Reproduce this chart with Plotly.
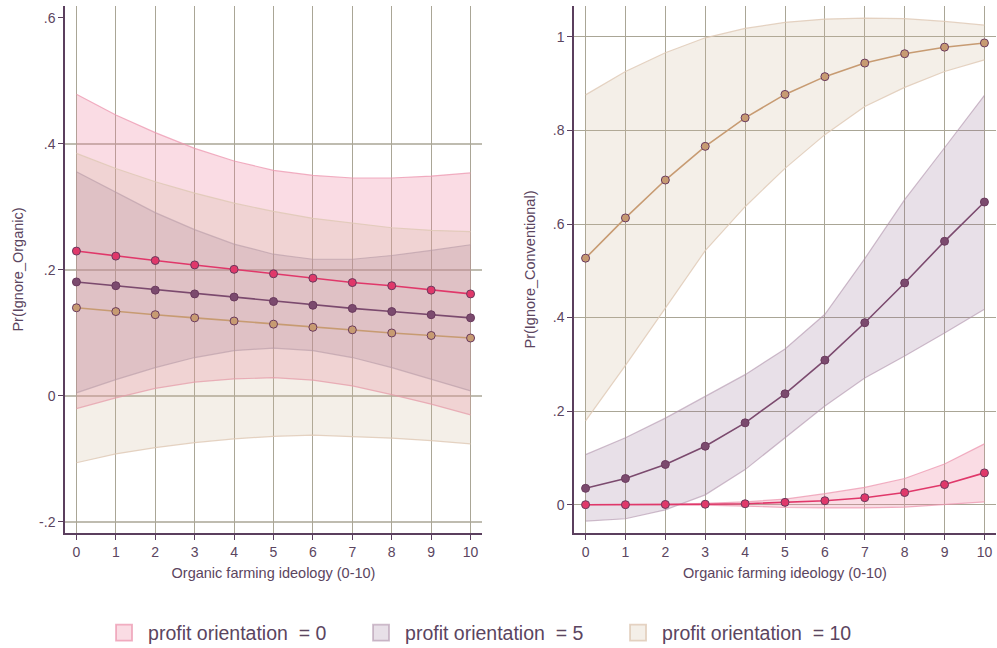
import plotly.graph_objects as go

# Organic farming ideology scale
ideology = list(range(11))

# Left panel: Pr(Ignore_Organic) by profit orientation (prediction, lower CI, upper CI)
org_p0 = [0.230, 0.222, 0.215, 0.208, 0.201, 0.194, 0.187, 0.180, 0.175, 0.168, 0.162]
org_p0_lo = [-0.020, -0.003, 0.012, 0.022, 0.027, 0.029, 0.025, 0.016, 0.002, -0.013, -0.030]
org_p0_hi = [0.479, 0.446, 0.418, 0.393, 0.373, 0.358, 0.350, 0.346, 0.346, 0.349, 0.354]

org_p5 = [0.181, 0.175, 0.168, 0.162, 0.157, 0.150, 0.144, 0.139, 0.134, 0.129, 0.124]
org_p5_lo = [0.005, 0.026, 0.045, 0.061, 0.072, 0.076, 0.072, 0.061, 0.045, 0.027, 0.008]
org_p5_hi = [0.356, 0.323, 0.291, 0.264, 0.241, 0.225, 0.217, 0.217, 0.223, 0.231, 0.240]

org_p10 = [0.140, 0.134, 0.129, 0.124, 0.119, 0.114, 0.109, 0.105, 0.100, 0.096, 0.092]
org_p10_lo = [-0.106, -0.092, -0.082, -0.074, -0.068, -0.064, -0.062, -0.064, -0.067, -0.071, -0.076]
org_p10_hi = [0.385, 0.361, 0.340, 0.322, 0.306, 0.293, 0.282, 0.274, 0.267, 0.263, 0.261]

# Right panel: Pr(Ignore_Conventional)
con_p0 = [0.000, 0.000, 0.0005, 0.001, 0.002, 0.005, 0.0085, 0.015, 0.026, 0.043, 0.068]
con_p0_lo = [0.000, 0.000, -0.0005, -0.001, -0.003, -0.006, -0.007, -0.007, -0.005, 0.000, 0.006]
con_p0_hi = [0.0001, 0.0003, 0.001, 0.003, 0.006, 0.012, 0.0235, 0.037, 0.056, 0.087, 0.130]

con_p5 = [0.035, 0.056, 0.086, 0.125, 0.175, 0.237, 0.309, 0.389, 0.474, 0.563, 0.647]
con_p5_lo = [-0.035, -0.030, -0.011, 0.021, 0.075, 0.142, 0.211, 0.271, 0.318, 0.367, 0.418]
con_p5_hi = [0.107, 0.143, 0.185, 0.231, 0.278, 0.333, 0.407, 0.526, 0.652, 0.763, 0.875]

con_p10 = [0.527, 0.613, 0.694, 0.766, 0.827, 0.877, 0.915, 0.944, 0.964, 0.978, 0.987]
con_p10_lo = [0.179, 0.298, 0.420, 0.543, 0.637, 0.719, 0.791, 0.851, 0.892, 0.926, 0.951]
con_p10_hi = [0.876, 0.926, 0.966, 0.998, 1.018, 1.031, 1.038, 1.040, 1.039, 1.033, 1.025]

group_labels = ["profit orientation\u00a0\u00a0= 0",
                "profit orientation\u00a0\u00a0= 5",
                "profit orientation\u00a0\u00a0= 10"]

left_yticks = [0.6, 0.4, 0.2, 0.0, -0.2]
left_yticktext = [".6", ".4", ".2", "0", "-.2"]
left_ygrid = [0.4, 0.2, 0.0, -0.2]
right_yticks = [1.0, 0.8, 0.6, 0.4, 0.2, 0.0]
right_yticktext = ["1", ".8", ".6", ".4", ".2", "0"]

FONT = "Liberation Sans, Arial, sans-serif"
AXIS_COLOR = "#5b3f5e"
TEXT_COLOR = "#5b4560"
GRID_COLOR = "#aaa696"

styles = [
    dict(line="#e0386a", marker="#e0386a", band="rgba(238,128,158,0.28)", edge="rgba(236,150,175,0.75)"),
    dict(line="#7b4a6e", marker="#7b4a6e", band="rgba(140,100,140,0.20)", edge="rgba(175,145,170,0.6)"),
    dict(line="#c79b72", marker="#c79b72", band="rgba(205,180,150,0.22)", edge="rgba(222,200,180,0.8)"),
]

fig = go.Figure()


def add_panel(preds, axis_suffix):
    xa = "x" + axis_suffix
    ya = "y" + axis_suffix
    for (pred, lo, hi), st in zip(preds, styles):
        fig.add_trace(go.Scatter(x=ideology, y=lo, mode="lines", xaxis=xa, yaxis=ya,
                                 line=dict(color=st["edge"], width=1.2),
                                 showlegend=False, hoverinfo="skip"))
        fig.add_trace(go.Scatter(x=ideology, y=hi, mode="lines", xaxis=xa, yaxis=ya,
                                 line=dict(color=st["edge"], width=1.2),
                                 fill="tonexty", fillcolor=st["band"],
                                 showlegend=False, hoverinfo="skip"))
    for (pred, lo, hi), st in zip(preds, styles):
        fig.add_trace(go.Scatter(x=ideology, y=pred, mode="lines+markers", xaxis=xa, yaxis=ya,
                                 line=dict(color=st["line"], width=1.6),
                                 marker=dict(color=st["marker"], size=8,
                                             line=dict(color="#6a3a5e", width=1)),
                                 showlegend=False))


add_panel([(org_p0, org_p0_lo, org_p0_hi),
           (org_p5, org_p5_lo, org_p5_hi),
           (org_p10, org_p10_lo, org_p10_hi)], "")
add_panel([(con_p0, con_p0_lo, con_p0_hi),
           (con_p5, con_p5_lo, con_p5_hi),
           (con_p10, con_p10_lo, con_p10_hi)], "2")

# Legend swatches
for label, st in zip(group_labels, styles):
    fig.add_trace(go.Scatter(x=[None], y=[None], mode="markers", name=label,
                             marker=dict(symbol="square", size=16, color=st["band"],
                                         line=dict(color=st["edge"], width=1.8))))

# Horizontal grid lines for the left panel (no line at the top tick)
for gv in left_ygrid:
    fig.add_shape(type="line", xref="x domain", yref="y", x0=0, x1=1, y0=gv, y1=gv,
                  line=dict(color=GRID_COLOR, width=1.4), layer="below")

x_common = dict(
    range=[-0.29, 10.29], tickvals=ideology, showgrid=True, gridcolor=GRID_COLOR, gridwidth=1.4,
    zeroline=False, showline=True, linecolor=AXIS_COLOR, linewidth=1.5,
    ticks="outside", ticklen=5, tickcolor=AXIS_COLOR, tickwidth=1.2,
    tickfont=dict(family=FONT, size=14, color=TEXT_COLOR),
    title=dict(text="Organic farming ideology (0-10)", font=dict(family=FONT, size=14.5, color=TEXT_COLOR),
               standoff=9),
    automargin=False,
)
y_common = dict(
    zeroline=False, showline=True, linecolor=AXIS_COLOR, linewidth=1.5,
    ticks="outside", ticklen=5, tickcolor=AXIS_COLOR, tickwidth=1.2,
    tickfont=dict(family=FONT, size=14, color=TEXT_COLOR), automargin=False,
)

fig.update_layout(
    width=997, height=648,
    margin=dict(l=0, r=0, t=0, b=0, autoexpand=False),
    paper_bgcolor="white", plot_bgcolor="white",
    font=dict(family=FONT, color=TEXT_COLOR),
    xaxis=dict(domain=[65 / 997, 482 / 997], anchor="y", **x_common),
    xaxis2=dict(domain=[574 / 997, 996 / 997], anchor="y2", **x_common),
    yaxis=dict(domain=[115 / 648, 642 / 648], anchor="x", range=[-0.2175, 0.619],
               tickvals=left_yticks, ticktext=left_yticktext, showgrid=False,
               title=dict(text="Pr(Ignore_Organic)", font=dict(family=FONT, size=14.5, color=TEXT_COLOR),
                          standoff=12),
               **y_common),
    yaxis2=dict(domain=[115 / 648, 642 / 648], anchor="x2", range=[-0.0605, 1.066],
                tickvals=right_yticks, ticktext=right_yticktext, showgrid=True,
                gridcolor=GRID_COLOR, gridwidth=1.4,
                title=dict(text="Pr(Ignore_Conventional)", font=dict(family=FONT, size=14.5, color=TEXT_COLOR),
                           standoff=14),
                **y_common),
    legend=dict(orientation="h", traceorder="normal", x=0.487, xanchor="center",
                y=15 / 648, yanchor="middle",
                font=dict(family=FONT, size=19.5, color=TEXT_COLOR),
                itemwidth=38, entrywidth=204, entrywidthmode="pixels"),
)

fig.write_html("out.html")
